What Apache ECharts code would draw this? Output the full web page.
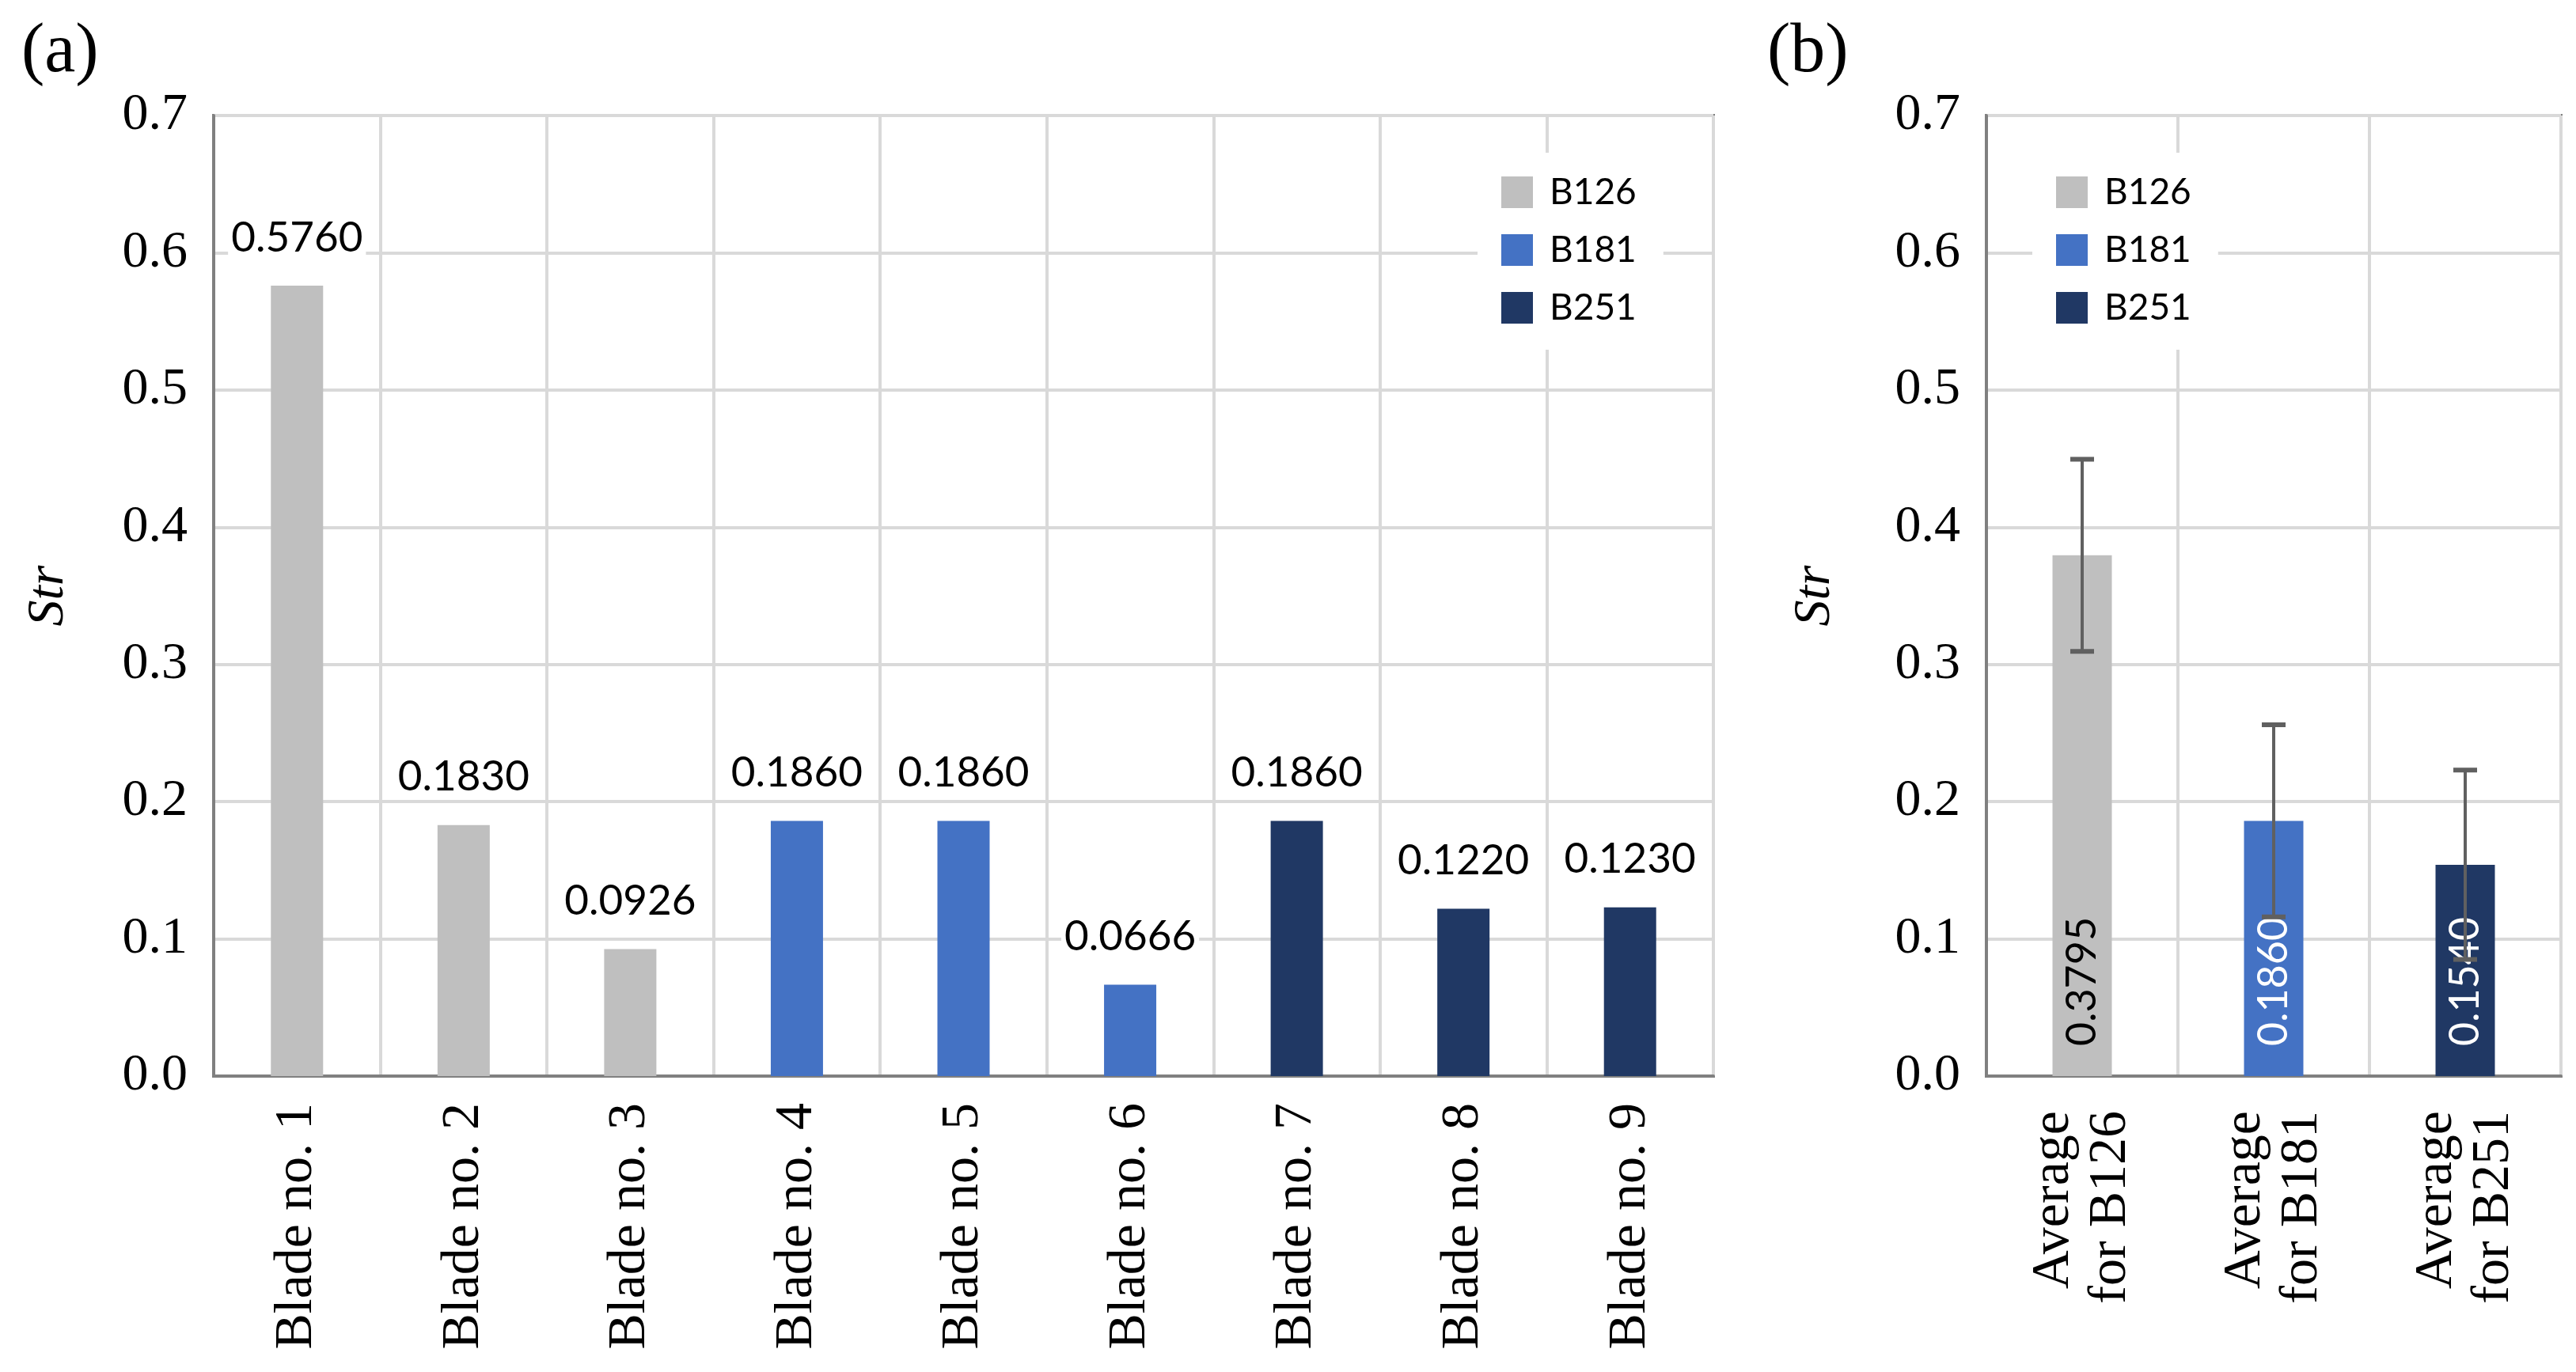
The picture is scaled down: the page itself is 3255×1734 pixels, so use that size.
<!DOCTYPE html>
<html>
<head>
<meta charset="utf-8">
<script src="https://cdn.jsdelivr.net/npm/echarts@6/dist/echarts.min.js"></script>
<style>
html,body{margin:0;padding:0;background:#fff;}
#chart{width:3255px;height:1734px;}
</style>
</head>
<body>
<div id="chart"></div>
<script>
// ---- data ----
const groups = ['B126', 'B181', 'B251'];
const groupColors = ['#BFBFBF', '#4472C4', '#203864'];
const bladeCategories = ['Blade no. 1', 'Blade no. 2', 'Blade no. 3', 'Blade no. 4', 'Blade no. 5', 'Blade no. 6', 'Blade no. 7', 'Blade no. 8', 'Blade no. 9'];
const bladeValues = [0.5760, 0.1830, 0.0926, 0.1860, 0.1860, 0.0666, 0.1860, 0.1220, 0.1230];
const bladeGroups = ['B126', 'B126', 'B126', 'B181', 'B181', 'B181', 'B251', 'B251', 'B251'];
const avgCategories = ['Average\nfor B126', 'Average\nfor B181', 'Average\nfor B251'];
const avgValues = [0.3795, 0.1860, 0.1540];
const avgErrors = [0.070, 0.070, 0.069];
const yMin = 0, yMax = 0.7, yInterval = 0.1;

const SERIF = 'Liberation Serif';
const SANS = 'Lato';
const gridLineColor = '#D9D9D9';
const borderColor = '#808080';

function yAxisCfg(gridIndex, nameGap) {
  return {
    type: 'value', gridIndex: gridIndex, min: yMin, max: yMax, interval: yInterval,
    name: 'Str', nameLocation: 'middle', nameGap: nameGap, nameRotate: 90,
    nameTextStyle: { fontFamily: SERIF, fontStyle: 'italic', fontSize: 66, color: '#000' },
    axisLine: { show: true, lineStyle: { color: borderColor, width: 4 } },
    axisTick: { show: false },
    axisLabel: { fontFamily: SERIF, fontSize: 66, color: '#000', margin: 33,
      formatter: v => v.toFixed(1) },
    splitLine: { show: true, lineStyle: { color: gridLineColor, width: 4 } }
  };
}
function xAxisCfg(gridIndex, data, margin, lineHeight) {
  return {
    type: 'category', gridIndex: gridIndex, data: data,
    axisLine: { show: true, lineStyle: { color: borderColor, width: 4 } },
    axisTick: { show: false },
    axisLabel: { rotate: 90, interval: 0, fontFamily: SERIF, fontSize: 68, color: '#000',
      margin: margin, lineHeight: lineHeight },
    splitLine: { show: true, interval: 0, lineStyle: { color: gridLineColor, width: 4 } }
  };
}

const series = [];
groups.forEach((g, gi) => {
  series.push({
    name: g, type: 'bar', xAxisIndex: 0, yAxisIndex: 0, stack: 'a', barWidth: 66,
    itemStyle: { color: groupColors[gi] },
    data: bladeValues.map((v, i) => bladeGroups[i] === g ? v : '-'),
    label: { show: true, position: 'top', distance: 34, fontFamily: SANS, fontSize: 53,
      color: '#000', backgroundColor: '#fff', padding: [0, 4],
      formatter: p => Number(p.value).toFixed(4) }
  });
});
groups.forEach((g, gi) => {
  series.push({
    name: g, type: 'bar', xAxisIndex: 1, yAxisIndex: 1, stack: 'b', barWidth: 75,
    itemStyle: { color: groupColors[gi] },
    data: avgValues.map((v, i) => i === gi ? v : '-'),
    label: { show: true, position: 'insideBottom', distance: 38, rotate: 90,
      align: 'left', verticalAlign: 'middle', fontFamily: SANS, fontSize: 52,
      color: gi === 0 ? '#000' : '#fff',
      formatter: p => Number(p.value).toFixed(4) }
  });
});
series.push({
  type: 'custom', xAxisIndex: 1, yAxisIndex: 1, z: 5,
  data: avgValues.map((v, i) => [i, v, avgErrors[i]]),
  encode: { x: 0, y: 1 },
  renderItem: function (params, api) {
    const x = api.value(0), m = api.value(1), e = api.value(2);
    const top = api.coord([x, m + e]);
    const bot = api.coord([x, m - e]);
    const hw = 15, c = '#606060';
    return {
      type: 'group', children: [
        { type: 'line', shape: { x1: top[0], y1: top[1], x2: bot[0], y2: bot[1] }, style: { stroke: c, lineWidth: 4 } },
        { type: 'line', shape: { x1: top[0] - hw, y1: top[1], x2: top[0] + hw, y2: top[1] }, style: { stroke: c, lineWidth: 6 } },
        { type: 'line', shape: { x1: bot[0] - hw, y1: bot[1], x2: bot[0] + hw, y2: bot[1] }, style: { stroke: c, lineWidth: 6 } }
      ]
    };
  }
});

function legendCfg(left) {
  return {
    data: groups, orient: 'vertical', left: left, top: 193, icon: 'rect',
    itemWidth: 40, itemHeight: 40, itemGap: 27,
    padding: [27, 34, 30, 30], backgroundColor: '#fff',
    textStyle: { fontFamily: SANS, fontSize: 46, color: '#000', lineHeight: 40, padding: [0, 0, 0, 16] }
  };
}

const option = {
  animation: false,
  backgroundColor: '#fff',
  title: [
    { text: '(a)', left: 22, top: 18, textStyle: { fontFamily: SERIF, fontSize: 88, fontWeight: 'normal', color: '#000' } },
    { text: '(b)', left: 2228, top: 18, textStyle: { fontFamily: SERIF, fontSize: 88, fontWeight: 'normal', color: '#000' } }
  ],
  legend: [legendCfg(1867), legendCfg(2568)],
  grid: [
    { left: 270, right: 1090, top: 146, bottom: 374, outerBoundsMode: 'none', show: true, borderColor: borderColor, borderWidth: 4, backgroundColor: 'transparent' },
    { left: 2510, right: 19, top: 146, bottom: 374, outerBoundsMode: 'none', show: true, borderColor: borderColor, borderWidth: 4, backgroundColor: 'transparent' }
  ],
  xAxis: [xAxisCfg(0, bladeCategories, 34, 70), xAxisCfg(1, avgCategories, 44, 72)],
  yAxis: [yAxisCfg(0, 175), yAxisCfg(1, 183)],
  series: series
};

const chart = echarts.init(document.getElementById('chart'));
chart.setOption(option);
</script>
</body>
</html>
